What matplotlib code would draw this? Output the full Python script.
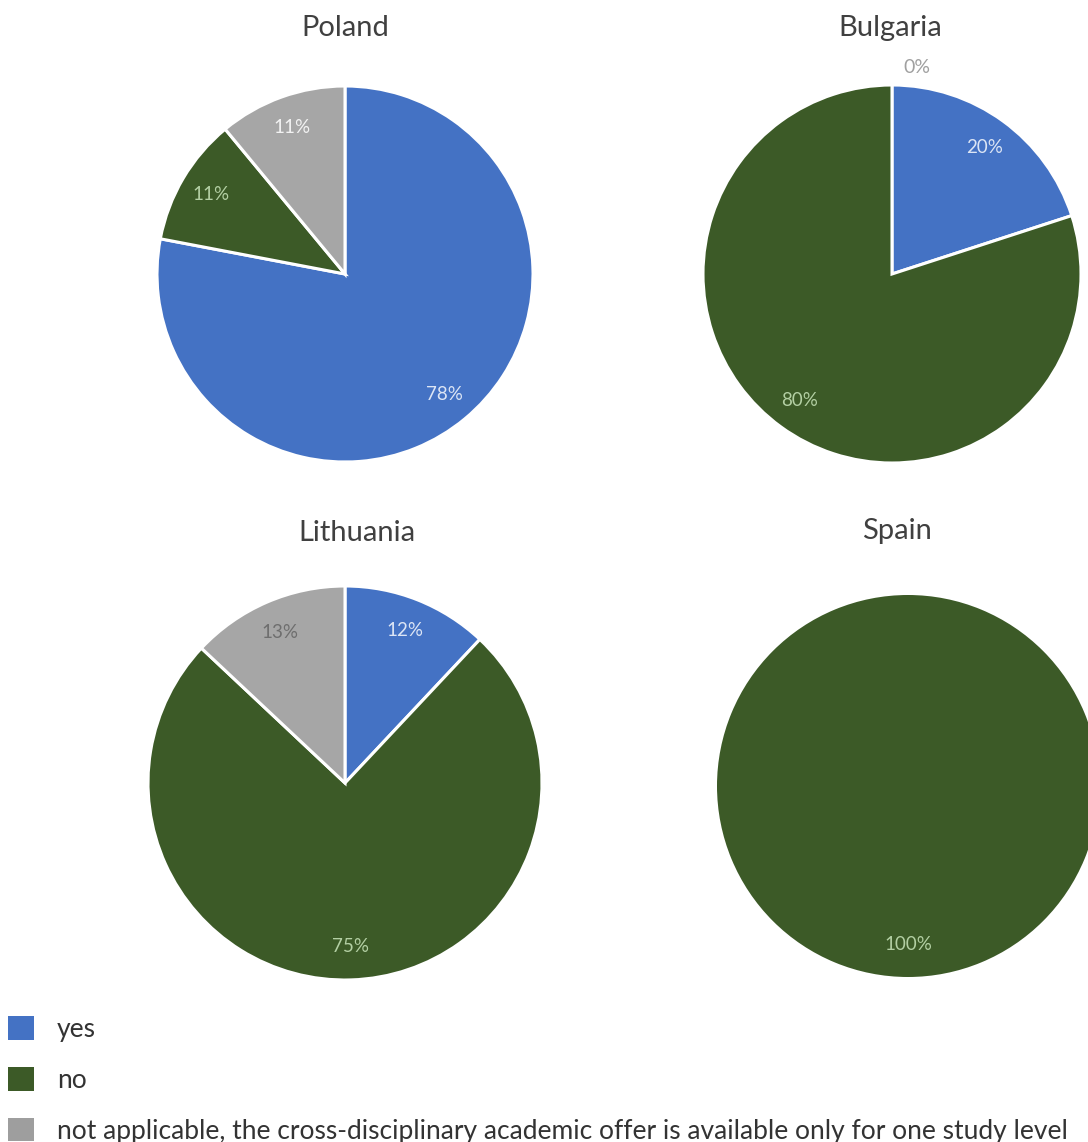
import matplotlib.pyplot as plt
from matplotlib.patches import Patch
import numpy as np

# data (percent of respondents)
countries = ["Poland", "Bulgaria", "Lithuania", "Spain"]
categories = ["yes", "no", "not applicable, the cross-disciplinary academic offer is available only for one study level"]
poland = [78, 11, 11]
bulgaria = [20, 80, 0]
lithuania = [12, 75, 13]
spain = [0, 100, 0]
values = [poland, bulgaria, lithuania, spain]
show_zero = [False, True, False, False]

colors = ["#4472C4", "#3C5A27", "#A6A6A6"]
legend_colors = ["#4472C4", "#3C5A27", "#9E9E9E"]
pct_colors = ["#DCE5F5", "#B3CFA3", "#F2F2F2"]

W, H = 1088, 1142
fig = plt.figure(figsize=(W / 100, H / 100), dpi=100)
plt.rcParams['font.family'] = ['Lato', 'DejaVu Sans']

# pie centres / radii in pixels (x, y from top, r)
layout = [(345, 274, 188), (892, 274, 189), (345, 783, 197), (908, 786, 191)]
title_pos = [(345, 28), (890, 28), (357, 533), (897, 531)]

for i, (name, vals) in enumerate(zip(countries, values)):
    cx, cy, r = layout[i]
    ax = fig.add_axes([(cx - r) / W, (H - cy - r) / H, 2 * r / W, 2 * r / H])
    wedges, texts, autotexts = ax.pie(
        vals, colors=colors, startangle=90, counterclock=False,
        autopct=lambda p: f"{p:.0f}%", pctdistance=0.83,
        wedgeprops=dict(edgecolor="white", linewidth=2.2),
        textprops=dict(fontsize=13.5))
    for j, t in enumerate(autotexts):
        t.set_color(pct_colors[j])
        if vals[j] == 0:
            wedges[j].set_linewidth(0)
            if show_zero[i]:
                t.set_position((0.13, 1.09))
                t.set_color("#A0A0A0")
                t.set_fontsize(14)
            else:
                t.set_visible(False)
    if max(vals) == 100:
        for w in wedges:
            w.set_linewidth(0)
    if name == "Lithuania":
        autotexts[2].set_color("#6E6E6E")
    ax.set_xlim(-1, 1)
    ax.set_ylim(-1, 1)
    ax.set_aspect("equal")
    tx, ty = title_pos[i]
    fig.text(tx / W, 1 - ty / H, name, ha="center", va="center",
             fontsize=21, color="#404040")

handles = [Patch(facecolor=c, edgecolor="none") for c in legend_colors]
fig.legend(handles, categories, loc="upper left",
           bbox_to_anchor=(8 / W, 1 - 1016 / H), frameon=False,
           fontsize=19, handlelength=1.0, handleheight=1.0,
           handletextpad=0.85, labelspacing=0.95, borderpad=0, borderaxespad=0,
           labelcolor="#333333")

fig.savefig("out.png", dpi=100)
